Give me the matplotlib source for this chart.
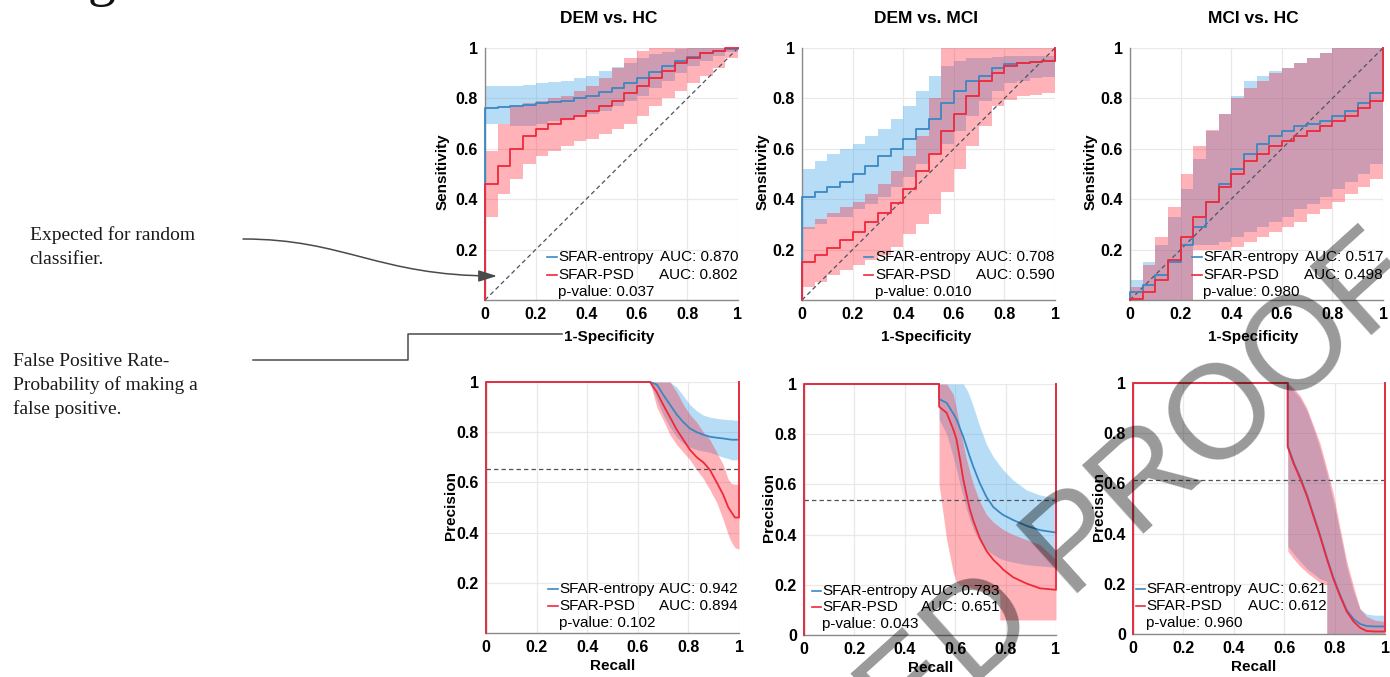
import matplotlib
matplotlib.use("Agg")
import matplotlib.pyplot as plt
from matplotlib.path import Path
from matplotlib.patches import FancyArrowPatch
from matplotlib.lines import Line2D

plt.rcParams['font.family'] = ['Liberation Sans', 'DejaVu Sans']

W, H = 1390, 677

# ---------------- data ----------------
panel_titles = ["DEM vs. HC", "DEM vs. MCI", "MCI vs. HC"]
tick_vals = [0, 0.2, 0.4, 0.6, 0.8, 1]
tick_labels = ["0", "0.2", "0.4", "0.6", "0.8", "1"]

# ROC curves (1-Specificity grid, step values)
roc_fpr = [0.00, 0.05, 0.10, 0.15, 0.20, 0.25, 0.30, 0.35, 0.40, 0.45, 0.50,
           0.55, 0.60, 0.65, 0.70, 0.75, 0.80, 0.85, 0.90, 0.95, 1.00]

# DEM vs. HC
roc1_ent    = [0.76, 0.765, 0.77, 0.775, 0.78, 0.785, 0.79, 0.80, 0.81, 0.825, 0.84,
               0.86, 0.88, 0.905, 0.93, 0.95, 0.965, 0.98, 0.99, 0.995, 1.0]
roc1_ent_hi = [0.85, 0.85, 0.85, 0.855, 0.86, 0.865, 0.87, 0.88, 0.89, 0.91, 0.925,
               0.94, 0.96, 0.975, 0.985, 0.995, 1.0, 1.0, 1.0, 1.0, 1.0]
roc1_ent_lo = [0.70, 0.70, 0.69, 0.69, 0.70, 0.71, 0.72, 0.73, 0.74, 0.75, 0.77,
               0.79, 0.81, 0.84, 0.87, 0.90, 0.93, 0.95, 0.97, 0.985, 1.0]
roc1_psd    = [0.46, 0.53, 0.60, 0.65, 0.68, 0.70, 0.72, 0.73, 0.75, 0.77, 0.79,
               0.82, 0.85, 0.88, 0.91, 0.94, 0.96, 0.98, 0.99, 1.0, 1.0]
roc1_psd_hi = [0.59, 0.70, 0.77, 0.78, 0.79, 0.80, 0.81, 0.83, 0.85, 0.88, 0.92,
               0.96, 0.99, 1.0, 1.0, 1.0, 1.0, 1.0, 1.0, 1.0, 1.0]
roc1_psd_lo = [0.33, 0.42, 0.48, 0.54, 0.57, 0.59, 0.61, 0.63, 0.64, 0.66, 0.68,
               0.70, 0.73, 0.77, 0.80, 0.83, 0.86, 0.89, 0.92, 0.96, 1.0]

# DEM vs. MCI
roc2_ent    = [0.41, 0.43, 0.45, 0.47, 0.50, 0.53, 0.57, 0.60, 0.64, 0.68, 0.72,
               0.78, 0.83, 0.87, 0.89, 0.92, 0.935, 0.94, 0.945, 0.95, 0.95]
roc2_ent_hi = [0.52, 0.55, 0.58, 0.60, 0.62, 0.65, 0.68, 0.72, 0.77, 0.83, 0.89,
               0.93, 0.95, 0.96, 0.96, 0.965, 0.97, 0.97, 0.97, 0.97, 0.97]
roc2_ent_lo = [0.28, 0.30, 0.33, 0.33, 0.36, 0.38, 0.41, 0.45, 0.49, 0.54, 0.58,
               0.62, 0.67, 0.73, 0.79, 0.83, 0.86, 0.87, 0.88, 0.885, 0.89]
roc2_psd    = [0.15, 0.18, 0.205, 0.24, 0.27, 0.31, 0.345, 0.385, 0.44, 0.51, 0.58,
               0.67, 0.74, 0.81, 0.87, 0.90, 0.93, 0.94, 0.945, 0.947, 0.947]
roc2_psd_hi = [0.29, 0.32, 0.345, 0.37, 0.39, 0.42, 0.46, 0.51, 0.57, 0.65, 0.80,
               1.0, 1.0, 1.0, 1.0, 1.0, 1.0, 1.0, 1.0, 1.0, 1.0]
roc2_psd_lo = [0.05, 0.07, 0.10, 0.12, 0.14, 0.16, 0.18, 0.21, 0.26, 0.30, 0.34,
               0.43, 0.52, 0.61, 0.69, 0.77, 0.795, 0.81, 0.815, 0.82, 0.82]

# MCI vs. HC
roc3_ent    = [0.03, 0.06, 0.10, 0.15, 0.22, 0.29, 0.39, 0.46, 0.52, 0.58, 0.62,
               0.65, 0.67, 0.69, 0.70, 0.71, 0.73, 0.75, 0.78, 0.82, 0.84]
roc3_ent_hi = [0.08, 0.15, 0.22, 0.33, 0.44, 0.56, 0.67, 0.74, 0.81, 0.87, 0.89,
               0.91, 0.92, 0.94, 0.96, 0.98, 1.0, 1.0, 1.0, 1.0, 1.0]
roc3_ent_lo = [0.0, 0.0, 0.0, 0.0, 0.0, 0.22, 0.22, 0.23, 0.25, 0.27, 0.29,
               0.31, 0.33, 0.36, 0.38, 0.41, 0.44, 0.47, 0.50, 0.54, 0.57]
roc3_psd    = [0.005, 0.03, 0.08, 0.16, 0.25, 0.33, 0.39, 0.45, 0.50, 0.55, 0.58,
               0.61, 0.63, 0.65, 0.67, 0.69, 0.71, 0.73, 0.76, 0.79, 0.81]
roc3_psd_hi = [0.05, 0.14, 0.25, 0.37, 0.50, 0.61, 0.675, 0.74, 0.80, 0.84, 0.87,
               0.90, 0.92, 0.94, 0.96, 0.98, 1.0, 1.0, 1.0, 1.0, 1.0]
roc3_psd_lo = [0.0, 0.0, 0.0, 0.0, 0.0, 0.20, 0.20, 0.20, 0.21, 0.23, 0.25,
               0.27, 0.29, 0.31, 0.34, 0.36, 0.39, 0.42, 0.45, 0.48, 0.51]

roc_auc_ent = [0.870, 0.708, 0.517]
roc_auc_psd = [0.802, 0.590, 0.498]
roc_pvalue = [0.037, 0.010, 0.980]

# Precision-recall curves
pr1_recall = [0.648, 0.675, 0.70, 0.727, 0.754, 0.78, 0.806, 0.833, 0.859, 0.885,
              0.912, 0.938, 0.958, 0.971, 0.984, 1.0]
pr1_ent    = [1.0, 0.99, 0.95, 0.91, 0.87, 0.84, 0.815, 0.80, 0.79, 0.782,
              0.778, 0.775, 0.772, 0.77, 0.77, 0.77]
pr1_ent_hi = [1.0, 1.0, 1.0, 1.0, 0.98, 0.945, 0.91, 0.885, 0.868, 0.86,
              0.855, 0.852, 0.85, 0.85, 0.848, 0.848]
pr1_ent_lo = [1.0, 0.93, 0.87, 0.82, 0.78, 0.755, 0.74, 0.73, 0.725, 0.72,
              0.71, 0.70, 0.695, 0.69, 0.69, 0.69]
pr1_psd    = [1.0, 0.96, 0.91, 0.86, 0.81, 0.77, 0.73, 0.70, 0.68, 0.65,
              0.60, 0.55, 0.50, 0.48, 0.46, 0.46]
pr1_psd_hi = [1.0, 1.0, 1.0, 1.0, 0.96, 0.91, 0.87, 0.84, 0.80, 0.77,
              0.72, 0.67, 0.61, 0.595, 0.593, 0.593]
pr1_psd_lo = [1.0, 0.90, 0.85, 0.79, 0.75, 0.72, 0.69, 0.65, 0.615, 0.57,
              0.52, 0.45, 0.39, 0.36, 0.34, 0.334]

pr2_recall = [0.536, 0.536, 0.566, 0.592, 0.605, 0.619, 0.632, 0.645, 0.658, 0.672,
              0.698, 0.724, 0.751, 0.777, 0.777, 0.791, 0.83, 0.883, 0.936, 1.0]
pr2_ent    = [1.0, 0.94, 0.925, 0.883, 0.86, 0.823, 0.79, 0.75, 0.71, 0.67,
              0.604, 0.55, 0.51, 0.488, 0.488, 0.478, 0.458, 0.435, 0.418, 0.408]
pr2_ent_hi = [1.0, 1.0, 1.0, 1.0, 1.0, 1.0, 1.0, 0.98, 0.95, 0.91,
              0.83, 0.76, 0.71, 0.675, 0.675, 0.657, 0.617, 0.578, 0.558, 0.545]
pr2_ent_lo = [1.0, 0.86, 0.80, 0.71, 0.66, 0.60, 0.55, 0.50, 0.46, 0.42,
              0.37, 0.34, 0.32, 0.305, 0.305, 0.30, 0.29, 0.28, 0.275, 0.27]
pr2_psd    = [1.0, 0.91, 0.885, 0.82, 0.78, 0.70, 0.62, 0.56, 0.50, 0.455,
              0.385, 0.335, 0.30, 0.275, 0.275, 0.26, 0.23, 0.205, 0.186, 0.18]
pr2_psd_hi = [1.0, 1.0, 1.0, 0.96, 0.90, 0.83, 0.76, 0.70, 0.65, 0.60,
              0.53, 0.48, 0.45, 0.43, 0.43, 0.42, 0.40, 0.38, 0.36, 0.30]
pr2_psd_lo = [1.0, 0.60, 0.38, 0.25, 0.21, 0.20, 0.195, 0.19, 0.19, 0.185,
              0.18, 0.175, 0.17, 0.165, 0.06, 0.06, 0.06, 0.06, 0.06, 0.06]

pr3_recall = [0.614, 0.614, 0.637, 0.663, 0.69, 0.716, 0.742, 0.769, 0.769, 0.795,
              0.822, 0.848, 0.875, 0.901, 0.927, 0.96, 1.0]
pr3_ent    = [1.0, 0.75, 0.685, 0.625, 0.555, 0.475, 0.395, 0.305, 0.305, 0.225,
              0.155, 0.095, 0.06, 0.04, 0.032, 0.03, 0.03]
pr3_ent_hi = [1.0, 1.0, 0.97, 0.94, 0.89, 0.82, 0.74, 0.64, 0.64, 0.53,
              0.40, 0.27, 0.17, 0.10, 0.08, 0.075, 0.075]
pr3_ent_lo = [1.0, 0.35, 0.32, 0.29, 0.26, 0.24, 0.22, 0.21, 0.0, 0.0,
              0.0, 0.0, 0.0, 0.0, 0.0, 0.0, 0.0]
pr3_psd    = [1.0, 0.745, 0.68, 0.62, 0.55, 0.47, 0.39, 0.30, 0.30, 0.22,
              0.15, 0.09, 0.05, 0.025, 0.012, 0.01, 0.01]
pr3_psd_hi = [1.0, 1.0, 0.98, 0.95, 0.90, 0.83, 0.76, 0.66, 0.66, 0.56,
              0.42, 0.29, 0.19, 0.10, 0.07, 0.055, 0.05]
pr3_psd_lo = [1.0, 0.33, 0.30, 0.27, 0.245, 0.225, 0.205, 0.195, 0.0, 0.0,
              0.0, 0.0, 0.0, 0.0, 0.0, 0.0, 0.0]

pr_chance = [0.652, 0.538, 0.613]
pr_auc_ent = [0.942, 0.783, 0.621]
pr_auc_psd = [0.894, 0.651, 0.612]
pr_pvalue = [0.102, 0.043, 0.960]

# ---------------- style ----------------
BLUE = '#3b87c4'
RED = '#f0283a'
BLUE_FILL = '#33a0e8'
RED_FILL = '#ff1a2a'
GRID = '#e9e9e9'
SPINE = '#8a8a8a'
DASH = '#4f5260'


def fx(px):
    return px / W


def fy(py):
    return 1 - py / H


fig = plt.figure(figsize=(W / 100, H / 100), dpi=100)

top_pos = [(485, 48, 738, 300), (802, 48, 1055, 300), (1130, 48, 1383, 300)]
bot_pos = [(486, 382, 739, 633), (804, 384, 1056, 635), (1133, 383, 1385, 634)]


def make_ax(box):
    l, t, r, b = box
    return fig.add_axes([fx(l), fy(b), (r - l) / W, (b - t) / H])


def style_ax(ax, show_zero):
    ax.set_xlim(0, 1)
    ax.set_ylim(0, 1)
    ax.set_xticks(tick_vals)
    ax.set_xticklabels(tick_labels)
    if show_zero:
        ax.set_yticks(tick_vals)
        ax.set_yticklabels(tick_labels)
    else:
        ax.set_yticks(tick_vals[1:])
        ax.set_yticklabels(tick_labels[1:])
    ax.grid(True, color=GRID, lw=0.9)
    ax.set_axisbelow(True)
    for s in ['top', 'right']:
        ax.spines[s].set_visible(False)
    for s in ['left', 'bottom']:
        ax.spines[s].set_color(SPINE)
        ax.spines[s].set_linewidth(1.0)
    ax.tick_params(length=0, labelsize=11.5, pad=5)
    for lab in ax.get_xticklabels() + ax.get_yticklabels():
        lab.set_fontweight('bold')


def legend(ax, x0, x1, ys, auc_e, auc_p, pval):
    hl, gap = 0.036, 0.007
    ax.plot([x0 - gap - hl, x0 - gap], [ys[0], ys[0]], color=BLUE, lw=1.2,
            transform=ax.transAxes, clip_on=False, zorder=6)
    ax.plot([x0 - gap - hl, x0 - gap], [ys[1], ys[1]], color=RED, lw=1.2,
            transform=ax.transAxes, clip_on=False, zorder=6)
    kw = dict(transform=ax.transAxes, fontsize=11, va='center', zorder=6)
    ax.text(x0, ys[0], "SFAR-entropy", ha='left', **kw)
    ax.text(x1, ys[0], f"AUC: {auc_e:.3f}", ha='right', **kw)
    ax.text(x0, ys[1], "SFAR-PSD", ha='left', **kw)
    ax.text(x1, ys[1], f"AUC: {auc_p:.3f}", ha='right', **kw)
    ax.text(x0, ys[2], f"p-value: {pval:.3f}", ha='left', **kw)


roc_sets = [
    (roc1_ent, roc1_ent_lo, roc1_ent_hi, roc1_psd, roc1_psd_lo, roc1_psd_hi),
    (roc2_ent, roc2_ent_lo, roc2_ent_hi, roc2_psd, roc2_psd_lo, roc2_psd_hi),
    (roc3_ent, roc3_ent_lo, roc3_ent_hi, roc3_psd, roc3_psd_lo, roc3_psd_hi),
]
roc_leg = [(0.29, 1.0), (0.288, 1.0), (0.29, 1.0)]
roc_ylab_x = [-43, -40, -40]
roc_xlab_x = [0.49, 0.49, 0.487]
title_x = [0.487, 0.49, 0.487]

for i, (box, data) in enumerate(zip(top_pos, roc_sets)):
    ax = make_ax(box)
    ent, ent_lo, ent_hi, psd, psd_lo, psd_hi = data
    ax.fill_between(roc_fpr, ent_lo, ent_hi, step='post', color=BLUE_FILL,
                    alpha=0.35, lw=0, zorder=2)
    ax.fill_between(roc_fpr, psd_lo, psd_hi, step='post', color=RED_FILL,
                    alpha=0.33, lw=0, zorder=2)
    ax.plot([0, 1], [0, 1], ls=(0, (3.5, 2.5)), color=DASH, lw=0.9, zorder=3)
    ax.step([0] + roc_fpr + [1], [0] + ent + [1], where='post', color=BLUE,
            lw=1.3, zorder=4, clip_on=False)
    ax.step([0] + roc_fpr + [1], [0] + psd + [1], where='post', color=RED,
            lw=1.3, zorder=5, clip_on=False)
    style_ax(ax, False)
    ax.set_title(panel_titles[i], fontsize=12.5, fontweight='bold', pad=18,
                 x=title_x[i])
    ax.set_ylabel("Sensitivity", fontsize=11, fontweight='bold')
    ax.set_xlabel("1-Specificity", fontsize=11, fontweight='bold')
    w = box[2] - box[0]
    hgt = box[3] - box[1]
    ax.yaxis.set_label_coords((roc_ylab_x[i] + 8) / w, 0.51)
    ax.xaxis.set_label_coords(roc_xlab_x[i], -(38 - 8) / hgt)
    legend(ax, roc_leg[i][0], roc_leg[i][1], [0.172, 0.101, 0.032],
           roc_auc_ent[i], roc_auc_psd[i], roc_pvalue[i])

pr_sets = [
    (pr1_recall, pr1_ent, pr1_ent_lo, pr1_ent_hi, pr1_psd, pr1_psd_lo, pr1_psd_hi),
    (pr2_recall, pr2_ent, pr2_ent_lo, pr2_ent_hi, pr2_psd, pr2_psd_lo, pr2_psd_hi),
    (pr3_recall, pr3_ent, pr3_ent_lo, pr3_ent_hi, pr3_psd, pr3_psd_lo, pr3_psd_hi),
]
pr_leg = [(0.29, 0.995, [0.175, 0.108, 0.040]),
          (0.073, 0.775, [0.177, 0.111, 0.042]),
          (0.053, 0.769, [0.178, 0.111, 0.042])]
pr_ylab_x = [-36, -36, -35]
pr_xlab_x = [0.50, 0.504, 0.48]

for i, (box, data) in enumerate(zip(bot_pos, pr_sets)):
    ax = make_ax(box)
    rec, ent, ent_lo, ent_hi, psd, psd_lo, psd_hi = data
    ax.fill_between(rec, ent_lo, ent_hi, color=BLUE_FILL, alpha=0.35, lw=0, zorder=2)
    ax.fill_between(rec, psd_lo, psd_hi, color=RED_FILL, alpha=0.33, lw=0, zorder=2)
    ax.axhline(pr_chance[i], ls=(0, (3.5, 2.5)), color=DASH, lw=0.9, zorder=3)
    ax.plot([0, 0] + rec + [1], [0, 1] + ent + [1], color=BLUE, lw=1.3,
            zorder=4, clip_on=False)
    ax.plot([0, 0] + rec + [1], [0, 1] + psd + [1], color=RED, lw=1.3,
            zorder=5, clip_on=False)
    style_ax(ax, i > 0)
    ax.set_ylabel("Precision", fontsize=11, fontweight='bold')
    ax.set_xlabel("Recall", fontsize=11, fontweight='bold')
    w = box[2] - box[0]
    hgt = box[3] - box[1]
    ax.yaxis.set_label_coords((pr_ylab_x[i] + 8) / w, 0.506)
    ax.xaxis.set_label_coords(pr_xlab_x[i], -(34 - 8) / hgt)
    x0, x1, ys = pr_leg[i]
    legend(ax, x0, x1, ys, pr_auc_ent[i], pr_auc_psd[i], pr_pvalue[i])

# ---------------- annotations ----------------
serif = ['Liberation Serif', 'DejaVu Serif']
ann_kw = dict(fontsize=14, family=serif, va='baseline', ha='left', color='#1a1a1a')
fig.text(fx(30), fy(240), "Expected for random", **ann_kw)
fig.text(fx(29), fy(264), "classifier.", **ann_kw)
fig.text(fx(13), fy(366), "False Positive Rate-", **ann_kw)
fig.text(fx(13), fy(390), "Probability of making a", **ann_kw)
fig.text(fx(13), fy(414), "false positive.", **ann_kw)

# partially visible heading letter
fig.text(fx(88), fy(-5), "g", fontsize=40, family=serif, va='baseline',
         ha='left', color='#111111')

curve = Path([(fx(243), fy(239)), (fx(345), fy(239)), (fx(378), fy(276)),
              (fx(497), fy(276))],
             [Path.MOVETO, Path.CURVE4, Path.CURVE4, Path.CURVE4])
arrow = FancyArrowPatch(path=curve, arrowstyle='-|>,head_length=0.8,head_width=0.25',
                        mutation_scale=14, color='#4a4a4a', lw=1.1,
                        transform=fig.transFigure)
fig.add_artist(arrow)

fig.add_artist(Line2D([fx(253), fx(408), fx(408), fx(562)],
                      [fy(360), fy(360), fy(334), fy(334)],
                      color='#4a4a4a', lw=1.1, transform=fig.transFigure))

# watermark
wm_x, wm_y = fx(1208), fy(476)
wm_kw = dict(fontsize=96, color='black', alpha=0.40, rotation=42,
             rotation_mode='anchor', va='baseline', zorder=20)
fig.text(wm_x, wm_y, "UNCORRECTED PR", ha='right', **wm_kw)
fig.text(wm_x, wm_y, "OOF", ha='left', **wm_kw)

fig.savefig("out.png", dpi=100)
